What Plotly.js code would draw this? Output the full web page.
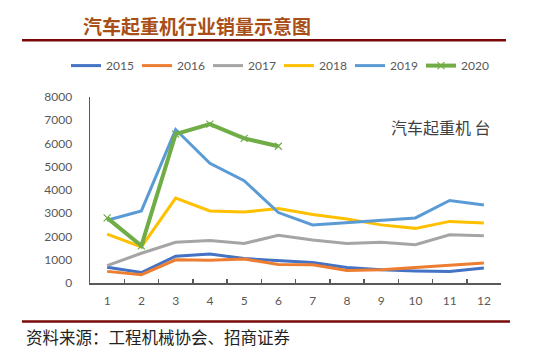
<!DOCTYPE html>
<html>
<head>
<meta charset="utf-8">
<script src="https://cdn.plot.ly/plotly-3.0.1.min.js"></script>
<style>body{margin:0;background:#fff;} #chart{width:550px;height:356px;}</style>
</head>
<body>
<div id="chart"></div>
<script>
const months = ['1','2','3','4','5','6','7','8','9','10','11','12'];
const years = ['2015','2016','2017','2018','2019','2020'];
const s2015 = [680, 450, 1150, 1250, 1050, 950, 880, 670, 570, 520, 500, 650];
const s2016 = [500, 360, 1000, 980, 1030, 800, 780, 540, 570, 670, 760, 860];
const s2017 = [750, 1280, 1750, 1830, 1700, 2050, 1850, 1700, 1750, 1650, 2070, 2030];
const s2018 = [2100, 1550, 3650, 3100, 3050, 3200, 2950, 2750, 2500, 2350, 2650, 2580];
const s2019 = [2700, 3100, 6600, 5150, 4400, 3030, 2500, 2600, 2700, 2800, 3550, 3350];
const s2020 = [2800, 1600, 6400, 6830, 6220, 5880];
const colors = ['#4472C4', '#ED7D31', '#A5A5A5', '#FFC000', '#5B9BD5', '#70AD47'];
const series = [s2015, s2016, s2017, s2018, s2019, s2020];
const yTicks = [0, 1000, 2000, 3000, 4000, 5000, 6000, 7000, 8000];

const traces = series.map((s, i) => {
  const isLast = i === series.length - 1;
  const t = {
    type: 'scatter',
    mode: isLast ? 'lines+markers' : 'lines',
    name: years[i],
    x: months.slice(0, s.length),
    y: s,
    line: {color: colors[i], width: isLast ? 4 : 3}
  };
  if (isLast) t.marker = {symbol: 'x-thin-open', size: 7, color: colors[i], line: {color: colors[i], width: 1.2}};
  return t;
});

const tickFont = {family: 'Lato, "Open Sans", sans-serif', size: 12, color: '#595959'};

const layout = {
  width: 550, height: 356,
  margin: {l: 90, r: 49, t: 97, b: 73},
  paper_bgcolor: '#ffffff', plot_bgcolor: '#ffffff',
  showlegend: true,
  legend: {
    orientation: 'h', xref: 'paper', yref: 'paper',
    x: (66-90)/411, y: 1 + (97-65.5)/186.6, xanchor: 'left', yanchor: 'middle',
    font: tickFont, entrywidth: 26, itemwidth: 30, traceorder: 'normal'
  },
  xaxis: {
    type: 'category', categoryorder: 'array', categoryarray: months,
    range: [-0.5, 11.5], showgrid: false, zeroline: false,
    showline: true, linecolor: '#595959', linewidth: 1.5,
    ticks: 'inside', tickson: 'boundaries', ticklen: 4, tickcolor: '#595959', tickwidth: 1.5,
    tickfont: tickFont, ticklabelstandoff: 6, fixedrange: true
  },
  yaxis: {
    range: [0, 8000], tickvals: yTicks, ticktext: yTicks.map(String),
    showgrid: false, zeroline: false,
    showline: true, linecolor: '#595959', linewidth: 1.5,
    ticks: '', tickfont: tickFont, ticklabelstandoff: 14, fixedrange: true
  },
  annotations: [
    {text: '汽车起重机行业销量示意图', xref: 'paper', yref: 'paper', x: (81-90)/411, y: 1 + (97-25)/186.6, xanchor: 'left', yanchor: 'middle', showarrow: false,
     font: {family: '"Noto Sans CJK SC", sans-serif', size: 19, color: '#A84E16', weight: 700}},
    {text: '汽车起重机 台', xref: 'paper', yref: 'paper', x: (389-90)/411, y: (283.3-127)/186.6, xanchor: 'left', yanchor: 'middle', showarrow: false,
     font: {family: '"Noto Sans CJK SC", sans-serif', size: 16, color: '#404040'}},
    {text: '资料来源：工程机械协会、招商证券', xref: 'paper', yref: 'paper', x: (24-90)/411, y: -(337-283.3)/186.6, xanchor: 'left', yanchor: 'middle', showarrow: false,
     font: {family: '"Noto Sans CJK SC", sans-serif', size: 16.5, color: '#222222'}}
  ],
  shapes: [
    {type: 'line', xref: 'paper', yref: 'paper', x0: (22-90)/411, x1: (506-90)/411, y0: 1 + (97-40)/186.6, y1: 1 + (97-40)/186.6, line: {color: '#7A0A0A', width: 2.5}},
    {type: 'line', xref: 'paper', yref: 'paper', x0: (22-90)/411, x1: (510-90)/411, y0: -(322-283.3)/186.6, y1: -(322-283.3)/186.6, line: {color: '#7A0A0A', width: 2.5}}
  ]
};

Plotly.newPlot('chart', traces, layout, {displayModeBar: false, staticPlot: true});
</script>
</body>
</html>
